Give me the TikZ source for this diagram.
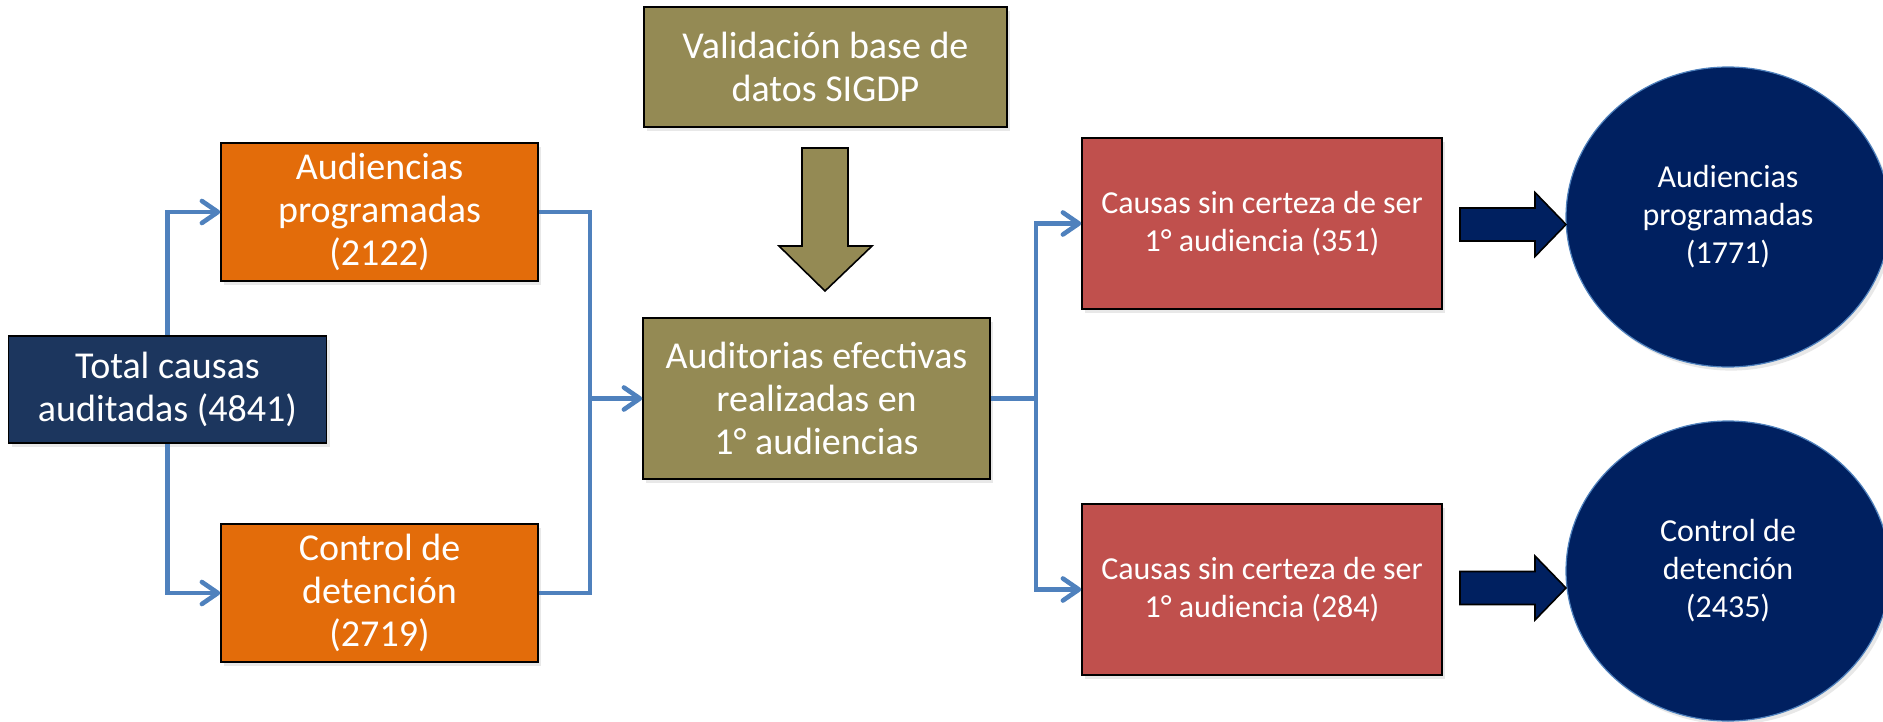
\documentclass[tikz,border=0pt]{standalone}
\usepackage{fontspec}
\setmainfont{Carlito}
\usetikzlibrary{arrows.meta,shapes.geometric,shadows}
\definecolor{navybox}{RGB}{28,54,94}
\definecolor{orangebox}{RGB}{227,108,10}
\definecolor{olivebox}{RGB}{148,138,84}
\definecolor{redbox}{RGB}{192,80,77}
\definecolor{darkblue}{RGB}{0,32,96}
\definecolor{linkblue}{RGB}{79,129,189}
\tikzset{
  softshadow/.style={drop shadow={opacity=0.18,shadow xshift=1.5pt,shadow yshift=-1.8pt}},
  box/.style={draw=black,line width=0.8pt,text=white,align=center,inner sep=2pt,
    font=\fontsize{19}{21.5}\selectfont,softshadow},
  smallbox/.style={box,font=\fontsize{16}{19}\selectfont},
  oval/.style={ellipse,fill=darkblue,draw=linkblue,line width=0.6pt,text=white,align=center,
    inner sep=0pt,minimum width=162pt,minimum height=150pt,
    font=\fontsize{16}{19}\selectfont,softshadow},
  wire/.style={draw=linkblue,line width=2.3pt},
  wirearrow/.style={wire,-{Straight Barb[length=8pt,width=11pt,round]}},
  blockarrow/.style={draw=black,line width=0.8pt,line join=miter}
}
\begin{document}
\begin{tikzpicture}[x=0.5pt,y=-0.5pt]
\useasboundingbox (0,0) rectangle (1883,722);
% boxes
\node[box,fill=navybox,minimum width=159pt,minimum height=53.5pt] (total) at (167.5,389.5) {Total causas\\auditadas (4841)};
\node[box,fill=orangebox,minimum width=158.5pt,minimum height=69pt] (prog) at (379.5,212) {Audiencias\\programadas\\(2122)};
\node[box,fill=orangebox,minimum width=158.5pt,minimum height=69pt] (det) at (379.5,593) {Control de\\detención\\(2719)};
\node[box,fill=olivebox,minimum width=181.5pt,minimum height=60pt] (valid) at (825.5,67) {Validación base de\\datos SIGDP};
\node[box,fill=olivebox,minimum width=173.5pt,minimum height=80.5pt] (audit) at (816.5,398.5) {Auditorias efectivas\\realizadas en\\1° audiencias};
\node[smallbox,fill=redbox,minimum width=180pt,minimum height=85.5pt] (sin1) at (1262,223.5) {Causas sin certeza de ser\\1° audiencia (351)};
\node[smallbox,fill=redbox,minimum width=180pt,minimum height=85.5pt] (sin2) at (1262,589.5) {Causas sin certeza de ser\\1° audiencia (284)};
\node[oval] (res1) at (1728,217) {Audiencias\\programadas\\(1771)};
\node[oval] (res2) at (1728,571) {Control de\\detención\\(2435)};

% junctions
\coordinate (j1) at (590,398.5);
\coordinate (j2) at (1036,398.5);

% connectors
\draw[wirearrow] (total.north) |- (prog.west);
\draw[wirearrow] (total.south) |- (det.west);
\draw[wire] (prog.east) -| (j1);
\draw[wire] (det.east) -| (j1);
\draw[wirearrow] (j1) -- (audit.west);
\draw[wire] (audit.east) -- (j2);
\draw[wirearrow] (j2) |- (sin1.west);
\draw[wirearrow] (j2) |- (sin2.west);

% block arrows
\draw[blockarrow,fill=olivebox] (802,148) -- (848,148) -- (848,246) -- (872,246) -- (825,291)
  -- (779,246) -- (802,246) -- cycle;
\draw[blockarrow,fill=darkblue] (1460,208) -- (1535,208) -- (1535,192.5) -- (1566,224.5)
  -- (1535,256.5) -- (1535,241) -- (1460,241) -- cycle;
\draw[blockarrow,fill=darkblue] (1460,571.5) -- (1535,571.5) -- (1535,556) -- (1566,588)
  -- (1535,620) -- (1535,604.5) -- (1460,604.5) -- cycle;
\end{tikzpicture}
\end{document}
